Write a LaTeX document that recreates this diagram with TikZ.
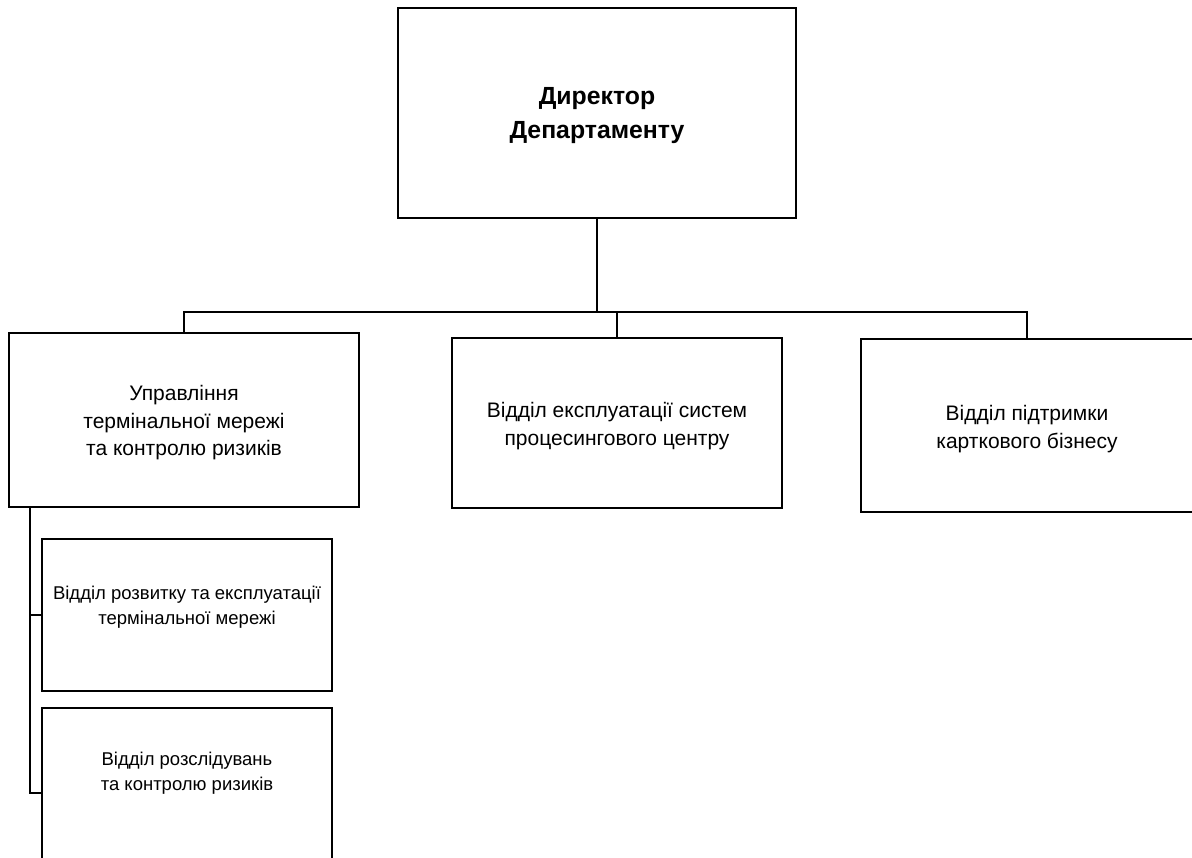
\documentclass[tikz,border=0pt]{standalone}
\usepackage{fontspec}
\setmainfont{Liberation Sans}
\begin{document}
\begin{tikzpicture}[x=1pt,y=-1pt,
  line width=1.3pt,
  box/.style={draw=black, rectangle, inner sep=0pt, align=center},
  lbl/.style={align=center, inner sep=0pt},
  maintext/.style={font=\fontsize{21}{27.5}\selectfont},
  subtext/.style={font=\fontsize{18.5}{25.5}\selectfont},
  dirtext/.style={font=\fontsize{24.8}{34}\selectfont\bfseries},
  conn/.style={draw=black, line width=1.3pt}]
\useasboundingbox (0,0) rectangle (1192,858);
\clip (0,0) rectangle (1192,858);
% boxes
\node[box, minimum width=398pt, minimum height=210pt] (D) at (597,113) {};
\node[lbl, dirtext] (Dt) at (597,116) {Директор\\Департаменту};
\node[box, minimum width=350pt, minimum height=174pt] (L) at (184,420) {};
\node[lbl, maintext] (Lt) at (184,423) {Управління\\термінальної мережі\\та контролю ризиків};
\node[box, minimum width=330pt, minimum height=170pt] (M) at (617,423) {};
\node[lbl, maintext] (Mt) at (617,426) {Відділ експлуатації систем\\процесингового центру};
\node[box, minimum width=332pt, minimum height=173pt] (R) at (1027,425.5) {};
\node[lbl, maintext] (Rt) at (1027,429) {Відділ підтримки\\карткового бізнесу};
\node[box, minimum width=290pt, minimum height=152pt] (S1) at (187,615) {};
\node[lbl, subtext] (S1t) at (187,607) {Відділ розвитку та експлуатації\\термінальної мережі};
\node[box, minimum width=290pt, minimum height=170pt] (S2) at (187,793) {};
\node[lbl, subtext] (S2t) at (187,773) {Відділ розслідувань\\та контролю ризиків};
% connectors
\coordinate (bus) at (0,312);
\draw[conn] (D.south) -- (D.south |- bus);
\draw[conn] (L.north) -- (L.north |- bus) -- (R.north |- bus) -- (R.north);
\draw[conn] (M.north) -- (M.north |- bus);
\coordinate (trunk) at (30,0);
\draw[conn] (L.south -| trunk) -- (S2.west -| trunk) -- (S2.west);
\draw[conn] (S1.west -| trunk) -- (S1.west);
\end{tikzpicture}
\end{document}
